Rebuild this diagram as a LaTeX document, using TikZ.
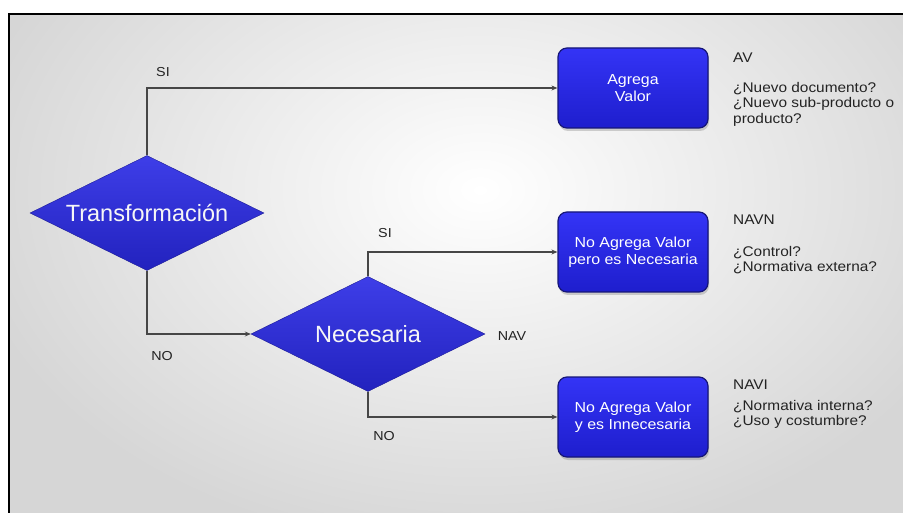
\documentclass[tikz,border=0pt]{standalone}
\usepackage{fontspec}
\setmainfont{Liberation Sans}
\newfontfamily\widesans[FakeStretch=1.1]{Liberation Sans}
\usetikzlibrary{shapes.geometric,arrows.meta,shadows}

\definecolor{boxtop}{RGB}{52,52,246}
\definecolor{boxbot}{RGB}{30,30,205}
\definecolor{boxedge}{RGB}{22,22,120}
\definecolor{dectop}{RGB}{62,62,232}
\definecolor{decbot}{RGB}{34,34,190}
\definecolor{linkgray}{RGB}{70,70,70}
\definecolor{inkgray}{RGB}{35,35,35}

\tikzset{
  decision/.style={shape=diamond, aspect=2.1, inner sep=0pt,
    minimum width=234pt, minimum height=115pt,
    top color=dectop, bottom color=decbot, draw=decbot!80!black, line width=0.4pt,
    text=white!93!gray, font=\fontsize{23.5}{26}\selectfont},
  outcome/.style={rectangle, rounded corners=9pt,
    minimum width=150pt, minimum height=80pt, align=center,
    top color=boxtop, bottom color=boxbot, draw=boxedge, line width=1.2pt,
    drop shadow={opacity=0.35, shadow xshift=1pt, shadow yshift=-3pt},
    text=white, font=\widesans\fontsize{14.5}{17}\selectfont},
  conn/.style={draw=linkgray, line width=1.1pt,
    -{Stealth[length=6pt,width=5pt]}},
  branchlabel/.style={text=inkgray, inner sep=0pt,
    font=\widesans\fontsize{13}{15}\selectfont},
  codelabel/.style={text=inkgray, inner sep=0pt, anchor=north west,
    font=\widesans\fontsize{14}{16}\selectfont},
  question/.style={text=inkgray, inner sep=0pt, anchor=north west, align=left,
    font=\widesans\fontsize{14}{15.5}\selectfont},
}

\begin{document}
\begin{tikzpicture}[x=1pt,y=-1pt]
  \useasboundingbox (0,0) rectangle (903,513);
  \fill[white] (0,0) rectangle (903,513);

  % framed panel with a soft grey backdrop, lighter towards the middle
  \begin{scope}
    \clip (9,14) rectangle (903,513);
    \fill[black!16] (9,14) rectangle (903,513);
    \shade[inner color=white, outer color=black!16] (480,190) ellipse (520 and 360);
  \end{scope}
  \draw[line width=2pt, line cap=rect] (9,513) -- (9,14) -- (903,14);

  % decisions
  \node[decision] (T) at (147,213) {Transformación};
  \node[decision] (N) at (368,334) {Necesaria};

  % outcomes
  \node[outcome] (AV)   at (633,88)  {Agrega\\Valor};
  \node[outcome] (NAVN) at (633,252) {No Agrega Valor\\pero es Necesaria};
  \node[outcome] (NAVI) at (633,417) {No Agrega Valor\\y es Innecesaria};

  % connectors
  \draw[conn] (T.north) |- (AV.west);
  \draw[conn] (T.south) |- (N.west);
  \draw[conn] (N.north) |- (NAVN.west);
  \draw[conn] (N.south) |- (NAVI.west);

  % branch labels
  \node[branchlabel] (siT) at (163,72)  {SI};
  \node[branchlabel] (noT) at (162,356) {NO};
  \node[branchlabel] (siN) at (385,233) {SI};
  \node[branchlabel] (noN) at (384,436) {NO};
  \node[branchlabel] (nav) at (512,336) {NAV};

  % classification codes and guiding questions
  \node[codelabel] (avcode) at (733,53) {AV};
  \node[question]  (avq)    at (733,82) {¿Nuevo documento?\\¿Nuevo sub-producto o\\producto?};
  \node[codelabel] (navncode) at (733,215) {NAVN};
  \node[question]  (navnq)    at (733,246) {¿Control?\\¿Normativa externa?};
  \node[codelabel] (navicode) at (733,380) {NAVI};
  \node[question]  (naviq)    at (733,400) {¿Normativa interna?\\¿Uso y costumbre?};
\end{tikzpicture}
\end{document}
